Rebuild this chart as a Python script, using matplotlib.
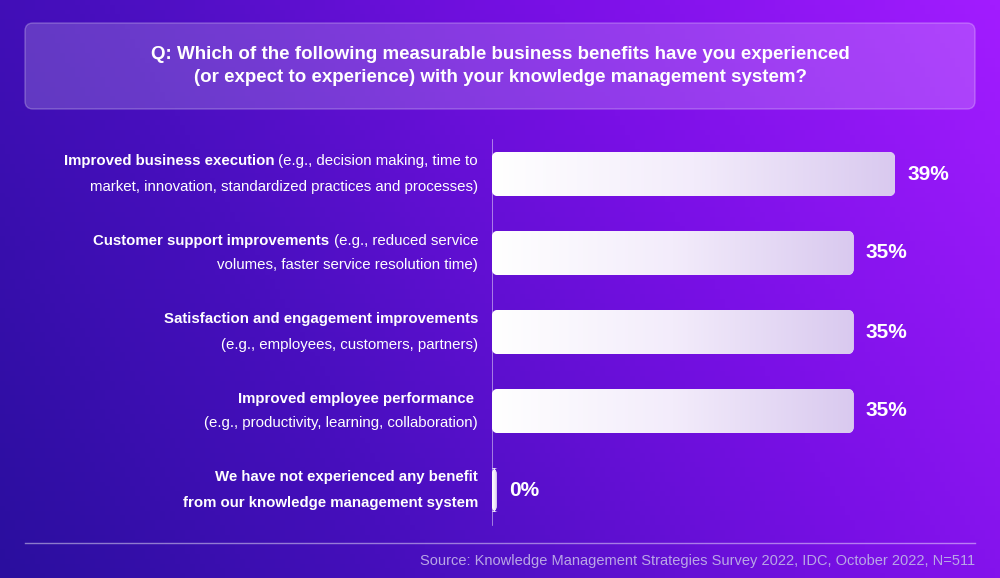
import numpy as np
import matplotlib
matplotlib.use("Agg")
import matplotlib.pyplot as plt
from matplotlib.patches import FancyBboxPatch
from matplotlib.colors import LinearSegmentedColormap

categories = ["Improved business execution", "Customer support improvements",
              "Satisfaction and engagement improvements", "Improved employee performance",
              "We have not experienced any benefit"]
values = [39, 35, 35, 35, 0]
value_labels = ["39%", "35%", "35%", "35%", "0%"]
label_lines = [
    [[("Improved business execution", "bold"), (" (e.g., decision making, time to", "normal")],
     [("market, innovation, standardized practices and processes)", "normal")]],
    [[("Customer support improvements", "bold"), (" (e.g., reduced service", "normal")],
     [("volumes, faster service resolution time)", "normal")]],
    [[("Satisfaction and engagement improvements", "bold")],
     [("(e.g., employees, customers, partners)", "normal")]],
    [[("Improved employee performance ", "bold")],
     [("(e.g., productivity, learning, collaboration)", "normal")]],
    [[("We have not experienced any benefit", "bold")],
     [("from our knowledge management system", "bold")]],
]
title = ("Q: Which of the following measurable business benefits have you experienced\n"
         "(or expect to experience) with your knowledge management system?")
source = "Source: Knowledge Management Strategies Survey 2022, IDC, October 2022, N=511"

FONT = "Liberation Sans"
W, H = 1000, 578
fig = plt.figure(figsize=(10, 5.78), dpi=100)

# background
bg = fig.add_axes([0, 0, 1, 1])
bg.set_xlim(0, W); bg.set_ylim(H, 0); bg.axis("off")
xx, yy = np.meshgrid(np.linspace(0, 1, 200), np.linspace(0, 1, 120))
t = np.clip(0.75 * xx + 0.25 * (1 - yy), 0, 1)
cmap = LinearSegmentedColormap.from_list("bg", ["#2a0e9e", "#4a0fc0", "#7a10e6", "#a21cff"])
bg.imshow(t, cmap=cmap, extent=[0, W, H, 0], aspect="auto", zorder=0)

# title box
tb = FancyBboxPatch((25, 23), 950, 86, boxstyle="round,pad=0,rounding_size=8",
                    fc=(1, 1, 1, 0.18), ec=(1, 1, 1, 0.25), lw=1, zorder=1)
bg.add_patch(tb)
bg.text(500, 66, title, ha="center", va="center", color="white", fontsize=13.5,
        fontweight="bold", family=FONT, linespacing=1.45, zorder=2)

# labels
fig.canvas.draw()
r = fig.canvas.get_renderer()
centers = [174, 253, 332, 411, 490]
for c, lines in zip(centers, label_lines):
    for li, line in enumerate(lines):
        y = c - 12.5 + 25 * li
        x = 478
        for txt, wt in reversed(line):
            tt = bg.text(x, y, txt, ha="right", va="center", color="white", fontsize=10.8,
                         fontweight=wt, family=FONT, zorder=2)
            bb = tt.get_window_extent(r)
            x -= bb.width

# bars axes
x0 = 492
scale = (895 - x0) / 39.0
ax = fig.add_axes([x0 / W, (H - 535) / H, (W - x0) / W, (535 - 130) / H])
ax.set_xlim(0, (W - x0) / scale)
ax.set_ylim(535, 130)
ax.axis("off")
ax.patch.set_alpha(0)
ax.axvline(0, ymin=(535 - 525) / 405, ymax=(535 - 140) / 405, color=(1, 1, 1, 0.55), lw=1.2)
bcmap = LinearSegmentedColormap.from_list("bar", ["#ffffff", "#f3ecfb", "#d9c9ef"])
grad = np.linspace(0, 1, 256)[None, :]
bh = 44
for c, v, lab in zip(centers, values, value_labels):
    w = max(v, 0.45)
    sh = FancyBboxPatch((0.05, c - bh / 2 + 2), w, bh, boxstyle="round,pad=0,rounding_size=0.6",
                        mutation_aspect=bh / 2.2 / 0.6 * 0.2, fc=(0.1, 0, 0.3, 0.25), ec="none", zorder=2)
    p = FancyBboxPatch((0, c - bh / 2), w, bh, boxstyle="round,pad=0,rounding_size=0.6",
                       mutation_aspect=10, fc="white", ec="none", zorder=3)
    ax.add_patch(p)
    im = ax.imshow(grad, cmap=bcmap, extent=[0, w, c + bh / 2, c - bh / 2], aspect="auto", zorder=3)
    im.set_clip_path(p)
    ax.text(w + 12 / scale, c, lab, ha="left", va="center", color="white", fontsize=15,
            fontweight="bold", family=FONT, zorder=4)
ax.set_xlim(0, (W - x0) / scale); ax.set_ylim(535, 130)

# footer
bg.plot([25, 975], [543, 543], color=(1, 1, 1, 0.45), lw=1, zorder=2)
bg.text(975, 561, source, ha="right", va="center", color="#b9a6e6", fontsize=10.5,
        family=FONT, zorder=2)

fig.savefig("out.png", dpi=100)
